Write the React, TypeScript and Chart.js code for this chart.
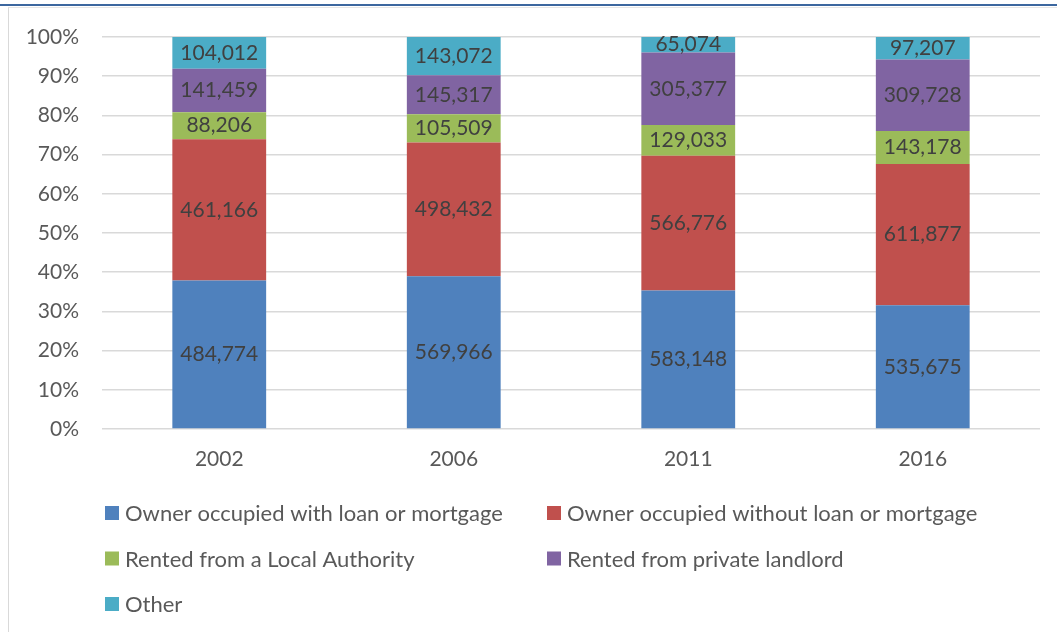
import React, { useEffect, useRef } from "react";
import { Chart, registerables } from "chart.js";

Chart.register(...registerables);

const categories = ["2002", "2006", "2011", "2016"];
const seriesNames = [
  "Owner occupied with loan or mortgage",
  "Owner occupied without loan or mortgage",
  "Rented from a Local Authority",
  "Rented from private landlord",
  "Other",
];
const ownerWithLoan = [484774, 569966, 583148, 535675];
const ownerWithoutLoan = [461166, 498432, 566776, 611877];
const rentedLocalAuthority = [88206, 105509, 129033, 143178];
const rentedPrivate = [141459, 145317, 305377, 309728];
const other = [104012, 143072, 65074, 97207];
const seriesColors = ["#4f81bd", "#c0504d", "#9bbb59", "#8064a2", "#4bacc6"];
const yTicks = [0, 10, 20, 30, 40, 50, 60, 70, 80, 90, 100];

const FONT = "Lato, 'Open Sans', sans-serif";
const FONT_SIZE = 21;
const LEGEND_FONT_SIZE = 22;

const allSeries = [ownerWithLoan, ownerWithoutLoan, rentedLocalAuthority, rentedPrivate, other];
const totals = categories.map((_, i) => allSeries.reduce((s, arr) => s + arr[i], 0));

const labelPlugin = {
  id: "segLabels",
  afterDatasetsDraw(chart: any) {
    const ctx = chart.ctx;
    ctx.save();
    ctx.font = `${FONT_SIZE}px ${FONT}`;
    ctx.fillStyle = "#404040";
    ctx.textAlign = "center";
    ctx.textBaseline = "middle";
    chart.data.datasets.forEach((ds: any, di: number) => {
      const meta = chart.getDatasetMeta(di);
      meta.data.forEach((el: any, i: number) => {
        const raw = ds.raw[i];
        const y = (el.y + el.base) / 2;
        ctx.fillText(raw.toLocaleString("en-US"), el.x, y);
      });
    });
    ctx.restore();
  },
};

const legendPlugin = {
  id: "gridLegend",
  afterDraw(chart: any) {
    const ctx = chart.ctx;
    const colX = [105, 547];
    const rowY = [513, 558.5, 604];
    ctx.save();
    ctx.font = `${LEGEND_FONT_SIZE}px ${FONT}`;
    ctx.textAlign = "left";
    ctx.textBaseline = "middle";
    chart.data.datasets.forEach((ds: any, i: number) => {
      const x = colX[i % 2];
      const y = rowY[Math.floor(i / 2)];
      ctx.fillStyle = ds.backgroundColor;
      ctx.fillRect(x, y - 7, 14, 14);
      ctx.fillStyle = "#595959";
      ctx.fillText(ds.label, x + 20, y + 1);
    });
    ctx.restore();
  },
};

export default function App() {
  const ref = useRef<HTMLCanvasElement>(null);
  useEffect(() => {
    if (!ref.current) return;
    const chart = new Chart(ref.current, {
      type: "bar",
      data: {
        labels: categories,
        datasets: allSeries.map((arr, si) => ({
          label: seriesNames[si],
          data: arr.map((v, i) => (v / totals[i]) * 100),
          raw: arr,
          backgroundColor: seriesColors[si],
          borderWidth: 0,
          barPercentage: 0.4,
          categoryPercentage: 1,
        })) as any,
      },
      options: {
        responsive: false,
        animation: false,
        layout: { padding: { top: 37, right: 17, left: 0, bottom: 0 } },
        plugins: { legend: { display: false }, tooltip: { enabled: false } },
        scales: {
          x: {
            stacked: true,
            grid: { display: false, drawTicks: false },
            border: { display: false },
            ticks: { color: "#595959", font: { family: FONT, size: FONT_SIZE }, padding: 18 },
            afterFit: (s: any) => { s.height = 203; },
          },
          y: {
            stacked: true,
            min: 0,
            max: 100,
            afterBuildTicks: (s: any) => { s.ticks = yTicks.map((v) => ({ value: v })); },
            grid: { color: "#d9d9d9", lineWidth: 1.5, drawTicks: false },
            border: { display: false },
            ticks: {
              color: "#595959",
              font: { family: FONT, size: FONT_SIZE },
              padding: 23,
              callback: (v: any) => `${v}%`,
            },
            afterFit: (s: any) => { s.width = 102; },
          },
        },
      },
      plugins: [labelPlugin, legendPlugin],
    });
    return () => chart.destroy();
  }, []);
  return (
    <div style={{ position: "fixed", left: 0, top: 0, width: 1057, height: 632, background: "#fff" }}>
      <canvas ref={ref} width={1057} height={632} style={{ display: "block", position: "absolute", left: 0, top: 0 }} />
      <div style={{ position: "absolute", left: 0, top: 4, width: 1057, height: 2, background: "#3c679f" }} />
      <div style={{ position: "absolute", left: 8, top: 7, width: 1049, height: 625, borderLeft: "1px solid #d9d9d9", borderTop: "1px solid #e6e6e6", boxSizing: "border-box", pointerEvents: "none" }} />
    </div>
  );
}
